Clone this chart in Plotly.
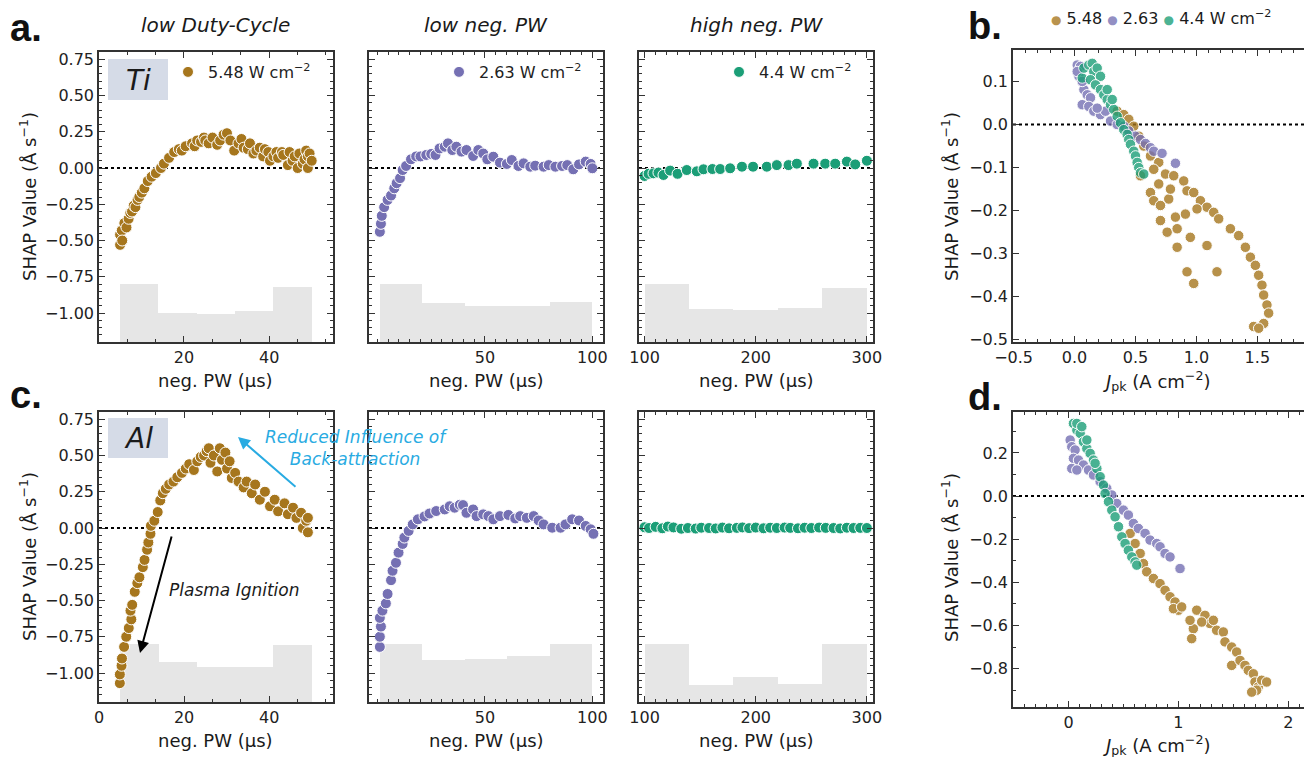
import plotly.graph_objects as go

W, H = 1304, 757
BROWN, PURPLE, GREEN = "#a6761d", "#7570b3", "#1b9e77"
HIST_COLOR = "#e6e6e6"
FONT = "DejaVu Sans"

# ---------------- data: panel a (Ti) ----------------
ti_dc_x = [5.0, 5.0, 5.4, 5.5, 6.0, 6.5, 7.0, 7.4, 7.8, 8.2, 8.6, 9.1, 9.5, 10.1, 10.7, 11.5, 12.4, 13.4, 14.6,
           15.3, 16.5, 17.7, 18.8, 19.5, 20.4, 21.9, 22.5, 23.1, 24.0, 24.7, 25.0, 25.8, 26.7, 27.8, 28.5, 29.3,
           30.1, 30.9, 31.8, 32.8, 33.5, 34.0, 35.0, 35.5, 36.3, 37.0, 37.8, 38.6, 39.0, 39.8, 40.2, 41.0, 41.7,
           42.1, 43.0, 43.3, 44.4, 44.8, 45.5, 46.0, 46.7, 47.1, 47.9, 48.3, 48.7, 49.1, 49.1, 49.5, 50.0]
ti_dc_y = [-0.53, -0.46, -0.43, -0.50, -0.38, -0.41, -0.35, -0.31, -0.30, -0.26, -0.27, -0.22, -0.20, -0.17,
           -0.14, -0.09, -0.06, -0.035, 0.0, 0.03, 0.07, 0.11, 0.13, 0.12, 0.15, 0.17, 0.15, 0.19, 0.18, 0.21,
           0.19, 0.17, 0.21, 0.16, 0.19, 0.23, 0.24, 0.19, 0.12, 0.17, 0.20, 0.14, 0.13, 0.17, 0.10, 0.12, 0.14,
           0.08, 0.13, 0.11, 0.05, 0.08, 0.11, 0.07, 0.11, 0.09, 0.02, 0.11, 0.05, 0.08, 0.0, 0.10, 0.03, 0.06,
           0.12, 0.0, 0.08, 0.10, 0.05]

ti_lnpw_x = [1.1, 1.6, 2.0, 3.1, 4.7, 6.3, 7.8, 8.9, 10.5, 11.7, 13.3, 15.6, 18.0, 20.0, 22.7, 25.0, 27.0, 28.9,
             31.3, 32.8, 34.8, 36.7, 39.1, 41.4, 44.5, 46.9, 49.2, 51.1, 53.9, 57.0, 60.2, 62.5, 65.6, 68.0,
             71.1, 73.4, 77.3, 79.7, 82.8, 85.9, 88.3, 91.1, 93.8, 96.9, 99.2, 100.0]
ti_lnpw_y = [-0.44, -0.385, -0.33, -0.27, -0.22, -0.19, -0.14, -0.105, -0.07, -0.014, 0.014, 0.06, 0.08, 0.08,
             0.09, 0.097, 0.09, 0.135, 0.147, 0.17, 0.124, 0.147, 0.113, 0.124, 0.083, 0.124, 0.10, 0.06, 0.078,
             0.037, 0.028, 0.055, 0.014, 0.032, 0.009, 0.016, 0.009, 0.02, 0.009, 0.014, 0.02, -0.009, 0.025,
             0.044, 0.028, -0.002]

ti_hnpw_x = [100, 103.6, 108, 112.5, 117, 123, 129.7, 138, 147, 153, 161, 168, 177, 187.6, 197.6, 210, 219,
             229.5, 237, 252, 262.5, 271.5, 282, 289.5, 300]
ti_hnpw_y = [-0.055, -0.04, -0.037, -0.032, -0.048, -0.018, -0.04, -0.014, -0.023, -0.009, -0.007, -0.007,
             -0.002, 0.009, 0.009, 0.009, 0.02, 0.02, 0.03, 0.03, 0.03, 0.03, 0.044, 0.025, 0.05]

# ---------------- data: panel c (Al) ----------------
al_dc_x = [4.9, 4.9, 5.3, 5.4, 5.9, 6.4, 7.0, 7.6, 7.4, 7.8, 8.4, 9.0, 9.5, 10.3, 10.7, 11.3, 11.6, 12.1, 12.2,
           13.0, 13.8, 14.4, 15.0, 15.7, 16.5, 17.5, 18.4, 19.5, 20.4, 21.2, 22.3, 23.1, 23.9, 24.7, 25.3, 25.8,
           26.2, 27.0, 27.8, 28.4, 28.9, 29.7, 30.1, 30.7, 31.2, 32.0, 32.8, 34.0, 34.7, 35.9, 36.7, 37.8, 39.0,
           40.2, 41.3, 42.1, 43.6, 44.4, 45.6, 46.4, 47.5, 47.9, 48.7, 49.1, 49.1]
al_dc_y = [-1.07, -1.01, -0.95, -0.90, -0.82, -0.75, -0.69, -0.63, -0.57, -0.53, -0.44, -0.38, -0.34, -0.27,
           -0.22, -0.15, -0.10, -0.04, 0.015, 0.05, 0.11, 0.19, 0.24, 0.27, 0.30, 0.32, 0.35, 0.38, 0.41, 0.44,
           0.40, 0.46, 0.49, 0.50, 0.53, 0.55, 0.45, 0.50, 0.39, 0.55, 0.47, 0.52, 0.41, 0.46, 0.345, 0.38, 0.32,
           0.28, 0.32, 0.24, 0.30, 0.195, 0.25, 0.15, 0.195, 0.115, 0.17, 0.095, 0.14, 0.07, 0.105, 0.0, 0.05,
           -0.03, 0.07]

al_lnpw_x = [1.1, 1.1, 1.6, 1.1, 2.3, 3.9, 4.7, 6.3, 7.0, 8.6, 9.8, 11.7, 12.5, 14.5, 16.4, 18.8, 21.9, 24.2,
             27.3, 31.3, 33.6, 35.9, 38.3, 39.8, 41.4, 44.5, 46.1, 49.2, 51.6, 53.9, 57.0, 60.9, 64.1, 66.4,
             69.5, 72.7, 75.0, 77.3, 81.3, 85.2, 87.5, 90.6, 93.8, 96.9, 99.2, 100.5]
al_lnpw_y = [-0.82, -0.75, -0.68, -0.62, -0.57, -0.52, -0.455, -0.36, -0.295, -0.24, -0.17, -0.11, -0.066,
             -0.02, 0.025, 0.06, 0.08, 0.10, 0.117, 0.128, 0.15, 0.14, 0.16, 0.158, 0.105, 0.128, 0.082, 0.094,
             0.082, 0.06, 0.082, 0.09, 0.066, 0.082, 0.07, 0.082, 0.052, 0.025, 0.002, 0.002, 0.025, 0.06,
             0.052, 0.014, -0.009, -0.04]

al_hnpw_x = [100, 104, 110, 116, 121, 126, 133, 139, 146, 151, 158, 164, 170, 176, 183, 188, 194, 200, 207, 213,
             219, 226, 231, 238, 244, 250, 257, 263, 270, 276, 282, 288, 294, 300]
al_hnpw_y = [0.005, 0.0, 0.008, -0.002, 0.01, 0.004, -0.005, 0.0, -0.004, 0.002, 0.0, -0.003, 0.003, -0.002,
             0.001, 0.004, -0.001, 0.003, -0.002, 0.002, 0.0, 0.003, 0.001, -0.002, 0.002, 0.0, 0.003, 0.001,
             0.0, -0.003, 0.002, 0.0, 0.001, 0.0]

# ---------------- histograms (bin edges, bar top levels) ----------------
edges_dc = [5, 14, 23, 32, 41, 50]
edges_lnpw = [1, 20.8, 40.6, 60.4, 80.2, 100]
edges_hnpw = [100, 140, 180, 220, 260, 300]
ti_dc_hist = [-0.80, -1.00, -1.005, -0.983, -0.82]
ti_lnpw_hist = [-0.80, -0.93, -0.95, -0.955, -0.924]
ti_hnpw_hist = [-0.80, -0.972, -0.98, -0.968, -0.83]
al_dc_hist = [-0.80, -0.926, -0.956, -0.956, -0.81]
al_lnpw_hist = [-0.80, -0.91, -0.90, -0.883, -0.80]
al_hnpw_hist = [-0.80, -1.08, -1.03, -1.075, -0.80]

# ---------------- data: panel b (Ti, Jpk) ----------------
b_brown_x = [0.35, 0.404, 0.445, 0.486, 0.527, 0.568, 0.623, 0.691, 0.541, 0.65, 0.746, 0.814, 0.623, 0.691,
             0.65, 0.705, 0.773, 0.787, 0.896, 0.923, 0.978, 1.033, 1.087, 1.142, 1.183, 1.279, 1.347, 1.402,
             1.443, 1.484, 1.511, 1.538, 1.552, 1.579, 1.593, 1.552, 1.47, 1.511, 0.705, 0.76, 0.828, 0.842,
             0.95, 0.923, 0.978, 1.087, 1.169, 0.842, 0.91, 1.005]
b_brown_y = [0.031, 0.023, 0.012, -0.004, -0.027, -0.05, -0.073, -0.088, -0.119, -0.104, -0.115, -0.119,
             -0.158, -0.138, -0.177, -0.188, -0.173, -0.15, -0.131, -0.154, -0.158, -0.177, -0.192, -0.204,
             -0.219, -0.242, -0.258, -0.285, -0.308, -0.327, -0.35, -0.373, -0.396, -0.419, -0.438, -0.462,
             -0.469, -0.473, -0.223, -0.25, -0.215, -0.285, -0.262, -0.342, -0.369, -0.281, -0.342, -0.242,
             -0.208, -0.196]
b_purple_x = [0.022, 0.049, 0.036, 0.077, 0.063, 0.104, 0.131, 0.063, 0.117, 0.158, 0.213, 0.254, 0.295, 0.35,
              0.404, 0.445, 0.5, 0.541, 0.582, 0.623, 0.65, 0.718, 0.828, 0.022, 0.186]
b_purple_y = [0.138, 0.135, 0.112, 0.081, 0.1, 0.069, 0.062, 0.046, 0.042, 0.031, 0.023, 0.031, 0.008, 0.0,
              -0.004, -0.015, -0.027, -0.035, -0.044, -0.054, -0.062, -0.067, -0.09, 0.123, 0.038]
b_green_x = [0.063, 0.077, 0.117, 0.145, 0.158, 0.186, 0.213, 0.131, 0.172, 0.213, 0.24, 0.268, 0.295, 0.322,
             0.35, 0.377, 0.404, 0.432, 0.445, 0.459, 0.486, 0.5, 0.514, 0.527, 0.541, 0.568, 0.268, 0.309]
b_green_y = [0.108, 0.131, 0.138, 0.142, 0.123, 0.131, 0.112, 0.104, 0.092, 0.081, 0.069, 0.058, 0.046, 0.035,
             0.019, 0.004, -0.012, -0.023, -0.035, -0.046, -0.062, -0.073, -0.088, -0.1, -0.112, -0.115, 0.081,
             0.058]

# ---------------- data: panel d (Al, Jpk) ----------------
d_brown_x = [0.561, 0.606, 0.652, 0.682, 0.712, 0.773, 0.833, 0.879, 0.924, 0.97, 1.0, 0.955, 1.03, 1.167,
             1.242, 1.288, 1.136, 1.121, 1.348, 1.409, 1.424, 1.485, 1.53, 1.485, 1.561, 1.606, 1.636, 1.682,
             1.697, 1.727, 1.758, 1.803, 1.712, 1.667, 1.318, 1.212, 1.106]
d_brown_y = [-0.173, -0.22, -0.266, -0.313, -0.351, -0.382, -0.406, -0.437, -0.467, -0.491, -0.529, -0.522,
             -0.514, -0.529, -0.553, -0.591, -0.615, -0.661, -0.622, -0.63, -0.676, -0.7, -0.723, -0.785,
             -0.762, -0.785, -0.808, -0.824, -0.862, -0.885, -0.854, -0.862, -0.9, -0.909, -0.576, -0.584,
             -0.576]
d_purple_x = [0.015, 0.03, 0.06, 0.045, 0.03, 0.091, 0.136, 0.182, 0.227, 0.288, 0.348, 0.394, 0.439, 0.5,
              0.545, 0.591, 0.636, 0.697, 0.742, 0.803, 0.833, 0.879, 0.924, 1.015, 0.076]
d_purple_y = [0.26, 0.229, 0.214, 0.175, 0.128, 0.167, 0.144, 0.121, 0.098, 0.067, 0.036, 0.005, -0.034,
              -0.065, -0.088, -0.127, -0.15, -0.173, -0.204, -0.22, -0.235, -0.266, -0.282, -0.336, 0.121]
d_green_x = [0.045, 0.076, 0.106, 0.136, 0.167, 0.197, 0.227, 0.258, 0.288, 0.318, 0.333, 0.364, 0.394, 0.424,
             0.455, 0.485, 0.515, 0.545, 0.576, 0.606, 0.621, 0.076, 0.121, 0.167, 0.242]
d_green_y = [0.337, 0.306, 0.291, 0.252, 0.221, 0.198, 0.167, 0.128, 0.09, 0.051, 0.012, -0.026, -0.065,
             -0.096, -0.142, -0.189, -0.22, -0.251, -0.282, -0.305, -0.32, 0.337, 0.322, 0.26, 0.152]

# ---------------- ticks / labels ----------------
shap_ticks_ac = [-1.0, -0.75, -0.5, -0.25, 0.0, 0.25, 0.5, 0.75]
b_yticks = [-0.5, -0.4, -0.3, -0.2, -0.1, 0.0, 0.1]
b_xticks = [-0.5, 0.0, 0.5, 1.0, 1.5]
d_yticks = [-0.8, -0.6, -0.4, -0.2, 0.0, 0.2]
d_xticks = [0, 1, 2]
dc_ticks_top, dc_ticks_bot = [20, 40], [0, 20, 40]
lnpw_ticks = [50, 100]
hnpw_ticks = [100, 200, 300]
power_labels = ["5.48", "2.63", "4.4"]
col_titles = ["low Duty-Cycle", "low neg. PW", "high neg. PW"]

# ---------------- layout geometry (pixels) ----------------
def dx(a, b):
    return [a / W, b / W]


def dy(top, bot):
    return [1 - bot / H, 1 - top / H]


def xn(i):
    return "x" if i == 1 else f"x{i}"


def yn(i):
    return "y" if i == 1 else f"y{i}"


COLS = [(99, 333), (369, 603), (639, 873)]
ROW_T, ROW_B = (52, 342), (412, 702)
AXC = "#333333"
MS = 11

fig = go.Figure()


def axis_common(**kw):
    d = dict(showline=True, linecolor=AXC, linewidth=1.5, mirror="allticks", ticks="inside", ticklen=6,
             tickwidth=1.3, tickcolor=AXC, showgrid=False, zeroline=False, automargin=False,
             tickfont=dict(family=FONT, size=16, color="#222222"))
    d.update(kw)
    return d


def add_hist(edges, tops, base, xa, ya):
    centers = [(edges[i] + edges[i + 1]) / 2 for i in range(len(tops))]
    widths = [edges[i + 1] - edges[i] for i in range(len(tops))]
    fig.add_trace(go.Bar(x=centers, y=[t - base for t in tops], base=base, width=widths,
                         marker=dict(color=HIST_COLOR, line=dict(width=0)), showlegend=False,
                         hoverinfo="skip", xaxis=xa, yaxis=ya))


def add_pts(x, y, color, xa, ya, name=None, legend=None, opacity=1.0, size=MS):
    kw = dict(legend=legend) if legend else {}
    fig.add_trace(go.Scatter(x=x, y=y, mode="markers", name=name, showlegend=name is not None,
                             opacity=opacity,
                             marker=dict(color=color, size=size, line=dict(color="white", width=1)),
                             xaxis=xa, yaxis=ya, **kw))


YR_AC = [-1.2, 0.8]
panels = [
    (1, 0, ROW_T, [0.05, 55], dc_ticks_top, 20 / 3, edges_dc, ti_dc_hist, ti_dc_x, ti_dc_y, BROWN, 0),
    (2, 1, ROW_T, [-3.95, 104.95], lnpw_ticks, 5, edges_lnpw, ti_lnpw_hist, ti_lnpw_x, ti_lnpw_y, PURPLE, 1),
    (3, 2, ROW_T, [95, 305.5], hnpw_ticks, 10, edges_hnpw, ti_hnpw_hist, ti_hnpw_x, ti_hnpw_y, GREEN, 2),
    (5, 0, ROW_B, [0, 55], dc_ticks_bot, 20 / 3, edges_dc, al_dc_hist, al_dc_x, al_dc_y, BROWN, None),
    (6, 1, ROW_B, [-3.95, 104.95], lnpw_ticks, 5, edges_lnpw, al_lnpw_hist, al_lnpw_x, al_lnpw_y, PURPLE, None),
    (7, 2, ROW_B, [95, 305.5], hnpw_ticks, 10, edges_hnpw, al_hnpw_hist, al_hnpw_x, al_hnpw_y, GREEN, None),
]

layout_axes = {}
shapes = []


def akey(prefix, i):
    return prefix if i == 1 else f"{prefix}{i}"


for idx, col, row, xr, xt, mdx, edges, tops, sx, sy, color, leg in panels:
    xa, ya = xn(idx), yn(idx)
    add_hist(edges, tops, YR_AC[0], xa, ya)
    if leg is not None:
        lname = "legend" if leg == 0 else f"legend{leg + 1}"
        add_pts(sx, sy, color, xa, ya, name=f"{power_labels[leg]} W cm<sup>−2</sup>", legend=lname)
    else:
        add_pts(sx, sy, color, xa, ya)
    layout_axes[akey("xaxis", idx)] = axis_common(
        domain=dx(*COLS[col]), range=xr, anchor=ya, tickmode="array", tickvals=xt,
        minor=dict(ticks="inside", ticklen=3, tickwidth=1, tickcolor=AXC, dtick=mdx, tick0=0))
    layout_axes[akey("yaxis", idx)] = axis_common(
        domain=dy(*row), range=YR_AC, anchor=xa, tickmode="array", tickvals=shap_ticks_ac,
        tickformat=".2f", showticklabels=(col == 0),
        minor=dict(ticks="inside", ticklen=3, tickwidth=1, tickcolor=AXC, dtick=0.05, tick0=0))
    shapes.append(dict(type="line", xref=f"{xa} domain", yref=ya, x0=0, x1=1, y0=0, y1=0, layer="below",
                       line=dict(color="black", width=2, dash="dot")))

# right-hand panels
for idx, row, xr, yr, xt, yt, ymin, series in [
    (4, (50, 342), [-0.505, 1.883], [-0.505, 0.173], b_xticks, b_yticks, None,
     [(b_brown_x, b_brown_y, BROWN), (b_purple_x, b_purple_y, PURPLE), (b_green_x, b_green_y, GREEN)]),
    (8, (412, 707), [-0.505, 2.143], [-0.978, 0.39], d_xticks, d_yticks, 0.1,
     [(d_brown_x, d_brown_y, BROWN), (d_purple_x, d_purple_y, PURPLE), (d_green_x, d_green_y, GREEN)]),
]:
    xa, ya = xn(idx), yn(idx)
    for sx, sy, c in series:
        add_pts(sx, sy, c, xa, ya, opacity=0.8, size=10.5)
    layout_axes[akey("xaxis", idx)] = axis_common(
        domain=dx(1013, 1304), range=xr, anchor=ya, tickmode="array", tickvals=xt,
        tickformat=".1f" if idx == 4 else "d",
        minor=dict(ticks="inside", ticklen=3, tickwidth=1, tickcolor=AXC, dtick=0.1, tick0=0))
    yminor = dict(ticks="inside", ticklen=3, tickwidth=1, tickcolor=AXC, dtick=ymin, tick0=0) \
        if ymin else dict(ticks="")
    layout_axes[akey("yaxis", idx)] = axis_common(
        domain=dy(*row), range=yr, anchor=xa, tickmode="array", tickvals=yt, tickformat=".1f",
        mirror=False, minor=yminor)
    shapes.append(dict(type="line", xref=f"{xa} domain", yref=ya, x0=0, x1=1, y0=0, y1=0, layer="below",
                       line=dict(color="black", width=2, dash="dot")))

# Ti / Al label boxes
for top, bot in [(59, 100), (418, 458)]:
    shapes.append(dict(type="rect", xref="paper", yref="paper", x0=108 / W, x1=168 / W,
                       y0=1 - bot / H, y1=1 - top / H, fillcolor="#d5dbe7", line=dict(width=0), layer="below"))


def ann(text, x, y, size=18, xanchor="center", yanchor="middle", color="#1a1a1a", angle=0, family=FONT,
        **kw):
    d = dict(text=text, x=x / W, y=1 - y / H, xref="paper", yref="paper", showarrow=False, xanchor=xanchor,
             yanchor=yanchor, font=dict(family=family, size=size, color=color), textangle=angle)
    d.update(kw)
    return d


annotations = []
for (c0, c1), t in zip(COLS, col_titles):
    annotations.append(ann(f"<i>{t}</i>", (c0 + c1) / 2, 25, size=20))
for letter, x, y in [("a.", 8, 28), ("b.", 966, 26), ("c.", 8, 395), ("d.", 966, 397)]:
    annotations.append(ann(f"<b>{letter}</b>", x, y, size=38, xanchor="left", family="Liberation Sans",
                           color="#111111"))
ytitle = "SHAP Value (Å s<sup>−1</sup>)"
for x, y in [(28, 197), (28, 557), (950, 197), (950, 558)]:
    annotations.append(ann(ytitle, x, y, size=18, angle=-90))
for (c0, c1) in COLS:
    annotations.append(ann("neg. PW (µs)", (c0 + c1) / 2, 381, size=18))
    annotations.append(ann("neg. PW (µs)", (c0 + c1) / 2, 740, size=18))
jtitle = "<i>J</i><sub>pk</sub> (A cm<sup>−2</sup>)"
annotations.append(ann(jtitle, 1156, 381, size=18))
annotations.append(ann(jtitle, 1156, 745, size=18))
annotations.append(ann("<i>Ti</i>", 138, 80, size=28))
annotations.append(ann("<i>Al</i>", 138, 438, size=28))
DOT = "<span style='font-size:12px;color:{}'>●</span> "
leg_b = (DOT.format("rgba(166,118,29,0.8)") + power_labels[0] + " "
         + DOT.format("rgba(117,112,179,0.8)") + power_labels[1] + " "
         + DOT.format("rgba(27,158,119,0.8)") + power_labels[2] + " W cm<sup>−2</sup>")
annotations.append(ann(leg_b, 1049, 18, size=16, xanchor="left"))
BLUE = "#29abe2"
annotations.append(ann("<i>Reduced Influence of<br>Back-attraction</i>", 356, 448, size=17, color=BLUE))
annotations.append(ann("<i>Plasma Ignition</i>", 234, 590, size=17))
annotations.append(dict(x=238 / W, y=1 - 437 / H, xref="paper", yref="paper", ax=59, ay=51, text="",
                        showarrow=True, arrowhead=2, arrowsize=1.2, arrowwidth=2, arrowcolor=BLUE))
annotations.append(dict(x=140 / W, y=1 - 653 / H, xref="paper", yref="paper", ax=32, ay=-118, text="",
                        showarrow=True, arrowhead=2, arrowsize=1.2, arrowwidth=2, arrowcolor="black"))

legend_base = dict(bgcolor="rgba(0,0,0,0)", font=dict(family=FONT, size=16, color="#222222"),
                   xanchor="left", yanchor="middle", itemwidth=30, tracegroupgap=0)
fig.update_layout(
    template="none",
    width=W, height=H, margin=dict(l=0, r=0, t=0, b=0, pad=0, autoexpand=False),
    paper_bgcolor="white", plot_bgcolor="white",
    font=dict(family=FONT, size=16, color="#222222"),
    showlegend=True,
    legend=dict(legend_base, x=168 / W, y=1 - 72 / H),
    legend2=dict(legend_base, x=439 / W, y=1 - 72 / H),
    legend3=dict(legend_base, x=719 / W, y=1 - 72 / H),
    shapes=shapes, annotations=annotations, bargap=0,
    **layout_axes,
)

fig.write_html("out.html", config={"displayModeBar": False},
               post_script="document.body.style.margin='0';document.body.style.overflow='hidden';")
